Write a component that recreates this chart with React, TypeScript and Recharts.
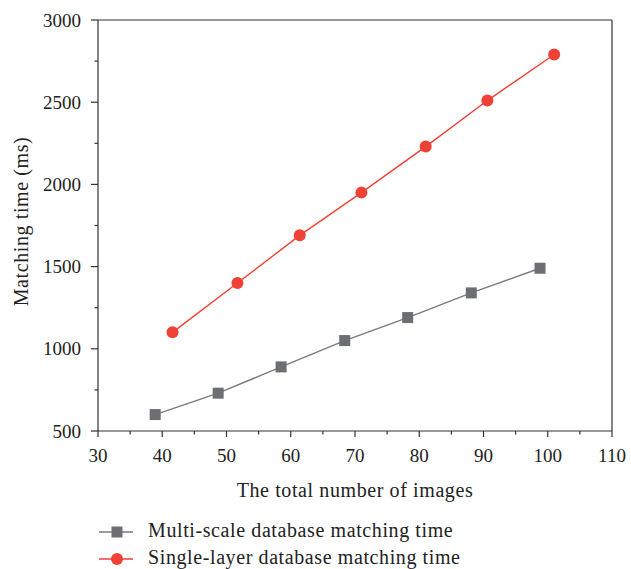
import { LineChart, Line, XAxis, YAxis, ReferenceLine } from "recharts";

// values
const multiX = [38.9, 48.7, 58.5, 68.4, 78.2, 88.1, 98.8];
const multiY = [600, 730, 890, 1050, 1190, 1340, 1490];
const singleX = [41.6, 51.7, 61.4, 71.0, 81.0, 90.6, 101.0];
const singleY = [1100, 1400, 1690, 1950, 2230, 2510, 2790];

const xTicks = [30, 35, 40, 45, 50, 55, 60, 65, 70, 75, 80, 85, 90, 95, 100, 105, 110];
const yTicks = [500, 750, 1000, 1250, 1500, 1750, 2000, 2250, 2500, 2750, 3000];

const multiName = "Multi-scale database matching time";
const singleName = "Single-layer database matching time";

const multiData = multiX.map((x, i) => ({ x, y: multiY[i] }));
const singleData = singleX.map((x, i) => ({ x, y: singleY[i] }));

const FONT = "'Liberation Serif', 'Times New Roman', serif";
const AXIS = "#333333";
const GRAY_LINE = "#7b7b7d";
const GRAY_MARK = "#6d6e72";
const RED = "#ef4136";
const TITLE_STYLE = { fontSize: 20, fontFamily: FONT, fill: "#222", letterSpacing: 0.6 };

const XTick = (props: any) => {
  const { x, y, payload } = props;
  const major = payload.value % 10 === 0;
  return (
    <g>
      <line x1={x} y1={y} x2={x} y2={y + (major ? 6 : 3.5)} stroke={AXIS} strokeWidth={1.2} />
      {major && (
        <text x={x} y={y + 31} textAnchor="middle" fontSize={19} fontFamily={FONT} fill="#222">
          {payload.value}
        </text>
      )}
    </g>
  );
};

const YTick = (props: any) => {
  const { x, y, payload } = props;
  const major = payload.value % 500 === 0;
  return (
    <g>
      <line x1={x} y1={y} x2={x - (major ? 7 : 3.5)} y2={y} stroke={AXIS} strokeWidth={1.2} />
      {major && (
        <text x={x - 17} y={y + 6.5} textAnchor="end" fontSize={19} fontFamily={FONT} fill="#222">
          {payload.value}
        </text>
      )}
    </g>
  );
};

const SquareDot = (props: any) => {
  const { cx, cy, index } = props;
  return <rect key={`sq-${index}`} x={cx - 5.5} y={cy - 5.5} width={11} height={11} fill={GRAY_MARK} />;
};

const CircleDot = (props: any) => {
  const { cx, cy, index } = props;
  return <circle key={`c-${index}`} cx={cx} cy={cy} r={6} fill={RED} />;
};

export default function App() {
  return (
    <div style={{ position: "absolute", left: 0, top: 0, width: 631, height: 569, background: "#fff" }}>
      <LineChart width={631} height={569} margin={{ top: 20, right: 19, left: 0, bottom: 78 }}>
        <XAxis
          dataKey="x"
          type="number"
          domain={[30, 110]}
          ticks={xTicks}
          interval={0}
          tickSize={0}
          tickMargin={0}
          tick={<XTick />}
          height={60}
          axisLine={{ stroke: AXIS, strokeWidth: 1.2 }}
          allowDuplicatedCategory={false}
          label={{
            value: "The total number of images",
            position: "insideBottom",
            offset: -6,
            style: TITLE_STYLE,
          }}
        />
        <YAxis
          type="number"
          domain={[500, 3000]}
          ticks={yTicks}
          interval={0}
          tickSize={0}
          tickMargin={0}
          tick={<YTick />}
          width={98}
          axisLine={{ stroke: AXIS, strokeWidth: 1.2 }}
          label={{
            value: "Matching time (ms)",
            angle: -90,
            position: "insideLeft",
            offset: 21,
            dy: -4,
            style: { ...TITLE_STYLE, textAnchor: "middle" },
          }}
        />
        <ReferenceLine y={3000} stroke={AXIS} strokeWidth={1.2} />
        <ReferenceLine x={110} stroke={AXIS} strokeWidth={1.2} />
        <Line
          data={multiData}
          dataKey="y"
          name={multiName}
          stroke={GRAY_LINE}
          strokeWidth={1.4}
          dot={<SquareDot />}
          activeDot={false}
          isAnimationActive={false}
        />
        <Line
          data={singleData}
          dataKey="y"
          name={singleName}
          stroke={RED}
          strokeWidth={1.4}
          dot={<CircleDot />}
          activeDot={false}
          isAnimationActive={false}
        />
      </LineChart>
      <svg width={631} height={69} style={{ position: "absolute", left: 0, top: 500 }}>
        <line x1={99} y1={32} x2={133} y2={32} stroke={GRAY_LINE} strokeWidth={1.4} />
        <rect x={111.5} y={26.5} width={11} height={11} fill={GRAY_MARK} />
        <text x={148} y={37} style={TITLE_STYLE}>
          {multiName}
        </text>
        <line x1={99} y1={59} x2={133} y2={59} stroke={RED} strokeWidth={1.4} />
        <circle cx={117} cy={59} r={6} fill={RED} />
        <text x={148} y={63.5} style={TITLE_STYLE}>
          {singleName}
        </text>
      </svg>
    </div>
  );
}
